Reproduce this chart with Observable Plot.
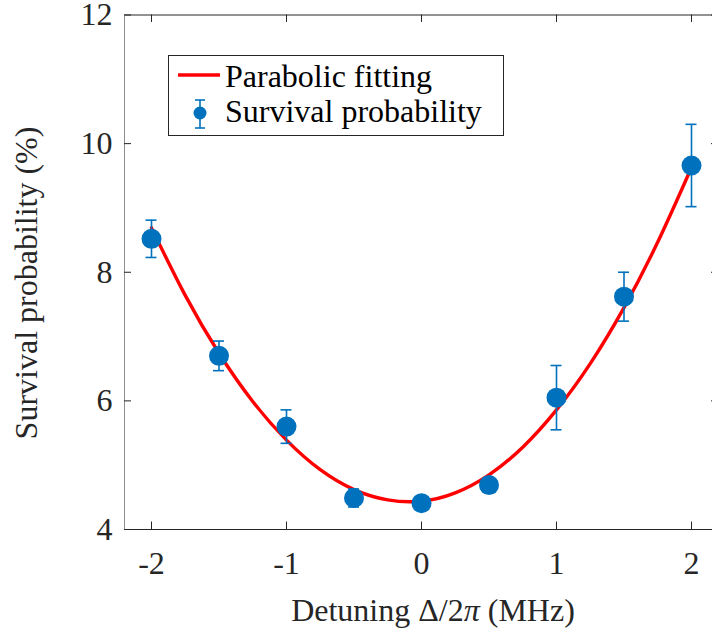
<!DOCTYPE html>
<html>
<head>
<meta charset="utf-8">
<script src="https://cdn.jsdelivr.net/npm/d3@7"></script>
<script src="https://cdn.jsdelivr.net/npm/@observablehq/plot@0.6"></script>
<style>
  html, body { margin: 0; padding: 0; background: white; overflow: hidden; width: 712px; height: 637px; }
  #chart svg { display: block; }
</style>
</head>
<body>
<div id="chart"></div>
<script>
// ---- data ----
const detuning = [-2, -1.5, -1, -0.5, 0, 0.5, 1, 1.5, 2];
const survival = [8.52, 6.70, 5.60, 4.49, 4.41, 4.69, 6.05, 7.62, 9.66];
const survivalErr = [0.29, 0.23, 0.26, 0.14, 0.10, 0.10, 0.50, 0.38, 0.64];

const fitX = [-2, -1.75, -1.5, -1.25, -1, -0.75, -0.5, -0.25, 0, 0.25, 0.5, 0.75, 1, 1.25, 1.5, 1.75, 2];
const fitY = [8.69, 7.64, 6.74, 5.99, 5.39, 4.93, 4.62, 4.46, 4.44, 4.57, 4.85, 5.28, 5.86, 6.58, 7.45, 8.47, 9.63];

const xTicks = [-2, -1, 0, 1, 2];
const xTickLabels = ["-2", "-1", "0", "1", "2"];
const yTicks = [4, 6, 8, 10, 12];
const yTickLabels = ["4", "6", "8", "10", "12"];

const xLabelMain = "Detuning Δ/2";
const xLabelPi = "π";
const xLabelUnit = " (MHz)";
const yLabel = "Survival probability (%)";
const legendFit = "Parabolic fitting";
const legendData = "Survival probability";

// ---- tables ----
const points = detuning.map((x, i) => ({x, y: survival[i], e: survivalErr[i]}));
const fit = fitX.map((x, i) => ({x, y: fitY[i]}));

const BLUE = "#0072BD";
const RED = "#FF0000";
const INK = "#262626";
const FONT = "\"Liberation Serif\", \"Times New Roman\", serif";

const chart = Plot.plot({
  width: 712,
  height: 637,
  marginLeft: 124,
  marginRight: -6,
  marginTop: 14.5,
  marginBottom: 108,
  style: {fontFamily: FONT, fontSize: "32px", color: INK, background: "white", overflow: "hidden"},
  x: {domain: [-2.2, 2.2]},
  y: {domain: [4, 12]},
  marks: [
    Plot.axisX(xTicks, {tickSize: 0, tickPadding: 22, fontSize: 32, fill: INK, fontFamily: FONT,
      tickFormat: d => xTickLabels[xTicks.indexOf(d)], label: null}),
    Plot.axisY(yTicks, {tickSize: 0, tickPadding: 12, fontSize: 32, fill: INK, fontFamily: FONT,
      tickFormat: d => yTickLabels[yTicks.indexOf(d)], label: null}),
    // box
    Plot.ruleY([4, 12], {stroke: INK, strokeWidth: 1}),
    Plot.ruleX([-2.2], {stroke: "#8f8f8f", strokeWidth: 1}),
    Plot.ruleX([2.2], {stroke: INK, strokeWidth: 1}),
    // inward ticks
    Plot.tickX(xTicks, {x: d => d, insetTop: 507, stroke: INK}),
    Plot.tickX(xTicks, {x: d => d, insetBottom: 507, stroke: INK}),
    Plot.tickY(yTicks, {y: d => d, insetRight: 587, stroke: INK}),
    Plot.tickY(yTicks, {y: d => d, insetLeft: 587, stroke: INK}),
    // fit curve
    Plot.line(fit, {x: "x", y: "y", stroke: RED, strokeWidth: 3.4, curve: "natural"}),
    // error bars
    Plot.ruleX(points, {x: "x", y1: d => d.y - d.e, y2: d => d.y + d.e, stroke: BLUE, strokeWidth: 1.6}),
    Plot.ruleY(points, {y: d => d.y + d.e, x1: "x", x2: "x", insetLeft: -5.5, insetRight: -5.5, stroke: BLUE, strokeWidth: 1.6}),
    Plot.ruleY(points, {y: d => d.y - d.e, x1: "x", x2: "x", insetLeft: -5.5, insetRight: -5.5, stroke: BLUE, strokeWidth: 1.6}),
    // markers
    Plot.dot(points, {x: "x", y: "y", r: 10, fill: BLUE, stroke: "none"})
  ]
});

document.getElementById("chart").append(chart);

// ---- axis titles & legend (decorations) ----
const svg = d3.select(chart);

const xt = svg.append("text")
  .attr("x", 433).attr("y", 621)
  .attr("text-anchor", "middle")
  .style("font-family", FONT).style("font-size", "32px").attr("fill", INK);
xt.append("tspan").text(xLabelMain);
xt.append("tspan").style("font-style", "italic").text(xLabelPi);
xt.append("tspan").text(xLabelUnit);

svg.append("text")
  .attr("transform", "translate(37,283) rotate(-90)")
  .attr("text-anchor", "middle")
  .style("font-family", FONT).style("font-size", "32px").attr("fill", INK)
  .text(yLabel);

const lg = svg.append("g");
lg.append("rect").attr("x", 168.5).attr("y", 55.5).attr("width", 335).attr("height", 80)
  .attr("fill", "white").attr("stroke", INK).attr("stroke-width", 1);
lg.append("line").attr("x1", 178).attr("x2", 220).attr("y1", 75).attr("y2", 75)
  .attr("stroke", RED).attr("stroke-width", 3.4);
lg.append("text").attr("x", 225).attr("y", 87).attr("text-anchor", "start")
  .style("font-family", FONT).style("font-size", "32px").attr("fill", "#000").text(legendFit);
lg.append("line").attr("x1", 200).attr("x2", 200).attr("y1", 100).attr("y2", 128)
  .attr("stroke", BLUE).attr("stroke-width", 1.6);
lg.append("line").attr("x1", 195).attr("x2", 205).attr("y1", 100).attr("y2", 100)
  .attr("stroke", BLUE).attr("stroke-width", 1.6);
lg.append("line").attr("x1", 195).attr("x2", 205).attr("y1", 128).attr("y2", 128)
  .attr("stroke", BLUE).attr("stroke-width", 1.6);
lg.append("circle").attr("cx", 200).attr("cy", 113).attr("r", 6.5).attr("fill", BLUE);
lg.append("text").attr("x", 225).attr("y", 122).attr("text-anchor", "start")
  .style("font-family", FONT).style("font-size", "32px").attr("fill", "#000").text(legendData);
</script>
</body>
</html>
